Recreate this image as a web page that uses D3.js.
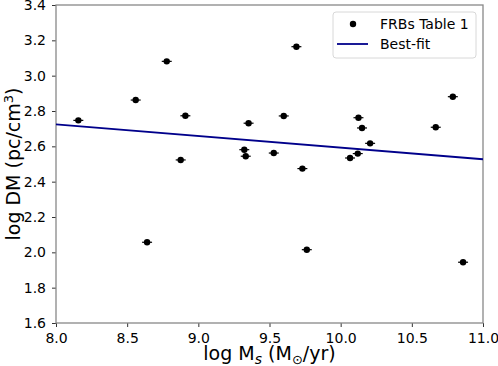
<!DOCTYPE html>
<html><head><meta charset="utf-8">
<script src="https://cdn.jsdelivr.net/npm/d3@7"></script>
<style>body{margin:0;background:#fff}svg{display:block}text{font-family:"DejaVu Sans",sans-serif}</style>
</head><body>
<svg id="c" width="498" height="366"></svg>
<script>
const logMs = [8.157, 8.56, 8.64, 8.778, 8.876, 8.909, 9.323, 9.333, 9.353, 9.53, 9.6, 9.689, 9.731, 9.762, 10.066, 10.12, 10.125, 10.15, 10.207, 10.668, 10.788, 10.86];
const logDM = [2.747, 2.862, 2.057, 3.081, 2.523, 2.773, 2.581, 2.544, 2.731, 2.562, 2.772, 3.164, 2.474, 2.015, 2.534, 2.559, 2.762, 2.704, 2.617, 2.708, 2.881, 1.944];
const xErr = 0.035;
const fitX = [8.0, 11.0];
const fitY = [2.724, 2.527];
const xTicks = [8.0, 8.5, 9.0, 9.5, 10.0, 10.5, 11.0];
const yTicks = [1.6, 1.8, 2.0, 2.2, 2.4, 2.6, 2.8, 3.0, 3.2, 3.4];

const svg = d3.select("#c");
const L = 56, R = 483, T = 5, B = 323;
const x = d3.scaleLinear().domain([8, 11]).range([L, R]);
const y = d3.scaleLinear().domain([1.6, 3.4]).range([B, T]);

const xAxis = svg.append("g").attr("transform", `translate(0,${B})`)
  .call(d3.axisBottom(x).tickValues(xTicks).tickFormat(d3.format(".1f")).tickSize(4).tickPadding(6));
const yAxis = svg.append("g").attr("transform", `translate(${L},0)`)
  .call(d3.axisLeft(y).tickValues(yTicks).tickFormat(d3.format(".1f")).tickSize(4).tickPadding(6));
[xAxis, yAxis].forEach(a => {
  a.selectAll("text").attr("font-size", 14).attr("fill", "#000").style("font-family", "DejaVu Sans");
  a.selectAll("line").attr("stroke", "#333");
  a.select(".domain").remove();
});
// frame
svg.append("rect").attr("x", L).attr("y", T).attr("width", R - L).attr("height", B - T)
  .attr("fill", "none").attr("stroke", "#888").attr("stroke-width", 1.3);

// fit line
svg.append("line").attr("x1", x(fitX[0])).attr("y1", y(fitY[0])).attr("x2", x(fitX[1])).attr("y2", y(fitY[1]))
  .attr("stroke", "#00008b").attr("stroke-width", 1.8);

// points
const pts = svg.append("g");
logMs.forEach((v, i) => {
  pts.append("line").attr("x1", x(v - xErr)).attr("x2", x(v + xErr)).attr("y1", y(logDM[i])).attr("y2", y(logDM[i]))
    .attr("stroke", "#000").attr("stroke-width", 1.2);
  pts.append("circle").attr("cx", x(v)).attr("cy", y(logDM[i])).attr("r", 3.2).attr("fill", "#000");
});

// legend
const lg = svg.append("g");
lg.append("rect").attr("x", 333).attr("y", 12).attr("width", 143).attr("height", 46).attr("rx", 3)
  .attr("fill", "#fff").attr("stroke", "#d8d8d8").attr("stroke-width", 1);
lg.append("circle").attr("cx", 353).attr("cy", 24).attr("r", 3.2).attr("fill", "#000");
lg.append("text").attr("x", 380).attr("y", 29).attr("font-size", 14).text("FRBs Table 1");
lg.append("line").attr("x1", 337).attr("x2", 368).attr("y1", 44).attr("y2", 44).attr("stroke", "#00008b").attr("stroke-width", 1.8);
lg.append("text").attr("x", 380).attr("y", 49).attr("font-size", 14).text("Best-fit");

// axis labels
const xl = svg.append("text").attr("x", (L + R) / 2).attr("y", 360).attr("text-anchor", "middle").attr("font-size", 19);
xl.append("tspan").text("log M");
xl.append("tspan").attr("font-style", "italic").attr("font-size", 14).attr("dy", 4).text("s");
xl.append("tspan").attr("dy", -4).text(" (M");
xl.append("tspan").attr("font-size", 13).attr("dy", 4).text("⊙");
xl.append("tspan").attr("dy", -4).text("/yr)");

const yl = svg.append("text").attr("transform", `translate(20,${(T + B) / 2}) rotate(-90)`).attr("text-anchor", "middle").attr("font-size", 19);
yl.append("tspan").text("log DM (pc/cm");
yl.append("tspan").attr("font-size", 13).attr("dy", -7).text("3");
yl.append("tspan").attr("dy", 7).text(")");
</script>
</body></html>
